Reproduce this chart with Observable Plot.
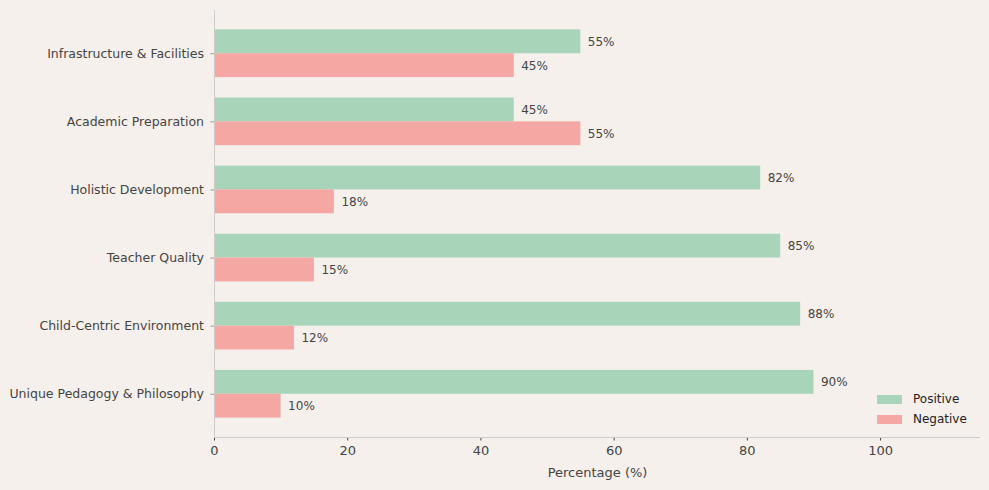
<!DOCTYPE html>
<html>
<head>
<meta charset="utf-8">
<script src="https://cdn.jsdelivr.net/npm/d3@7"></script>
<script src="https://cdn.jsdelivr.net/npm/@observablehq/plot@0.6"></script>
<style>
  html, body { margin: 0; padding: 0; background: #f5f0ec; }
  #wrap { position: relative; width: 989px; height: 490px; font-family: "DejaVu Sans", sans-serif; }
  #legend { position: absolute; left: 877px; top: 389px; font-size: 12px; color: #222; }
  .item { display: flex; align-items: center; height: 20px; }
  .sw { width: 25px; height: 9px; margin-right: 11px; }
</style>
</head>
<body>
<div id="wrap"></div>
<script>
const categories = ["Unique Pedagogy & Philosophy", "Child-Centric Environment", "Teacher Quality", "Holistic Development", "Academic Preparation", "Infrastructure & Facilities"];
const positive = [90, 88, 85, 82, 45, 55];
const negative = [10, 12, 15, 18, 55, 45];
const seriesNames = ["Positive", "Negative"];
const colors = ["#a8d5ba", "#f5a7a3"];
const xTicks = [0, 20, 40, 60, 80, 100];

const barH = 0.35;
const rows = [];
categories.forEach((c, i) => {
  rows.push({cat: c, i, series: "Positive", value: positive[i], y1: i, y2: i + barH});
  rows.push({cat: c, i, series: "Negative", value: negative[i], y1: i - barH, y2: i});
});

const plot = Plot.plot({
  width: 989,
  height: 490,
  marginLeft: 214,
  marginRight: 9,
  marginTop: 10,
  marginBottom: 53,
  style: {background: "#f5f0ec", fontFamily: "DejaVu Sans, sans-serif", color: "#444"},
  x: {domain: [0, 115]},
  y: {domain: [-0.635, 5.635]},
  color: {domain: seriesNames, range: colors},
  marks: [
    Plot.rect(rows, {x1: 0, x2: "value", y1: "y1", y2: "y2", fill: "series"}),
    Plot.text(rows, {x: "value", y: d => (d.y1 + d.y2) / 2, text: d => d.value + "%", textAnchor: "start", dx: 7, fontSize: 12, fill: "#444"}),
    Plot.axisY({ticks: categories.map((c, i) => i), tickFormat: i => categories[i], tickSize: 3.5, tickPadding: 7, fontSize: 12.5, label: null, stroke: "#999", color: "#444"}),
    Plot.axisX({ticks: xTicks, tickSize: 3.5, tickPadding: 5, fontSize: 13, label: "Percentage (%)", labelArrow: "none", labelAnchor: "center", labelOffset: 39, stroke: "#444"}),
    Plot.ruleX([0], {stroke: "#ccc"}),
    Plot.ruleY([-0.635], {stroke: "#ccc"})
  ]
});

const wrap = document.getElementById("wrap");
wrap.appendChild(plot);
const legend = document.createElement("div");
legend.id = "legend";
seriesNames.forEach((s, k) => {
  const it = document.createElement("div");
  it.className = "item";
  const sw = document.createElement("div");
  sw.className = "sw";
  sw.style.background = colors[k];
  it.appendChild(sw);
  const t = document.createElement("span");
  t.textContent = s;
  it.appendChild(t);
  legend.appendChild(it);
});
wrap.appendChild(legend);
</script>
</body>
</html>
